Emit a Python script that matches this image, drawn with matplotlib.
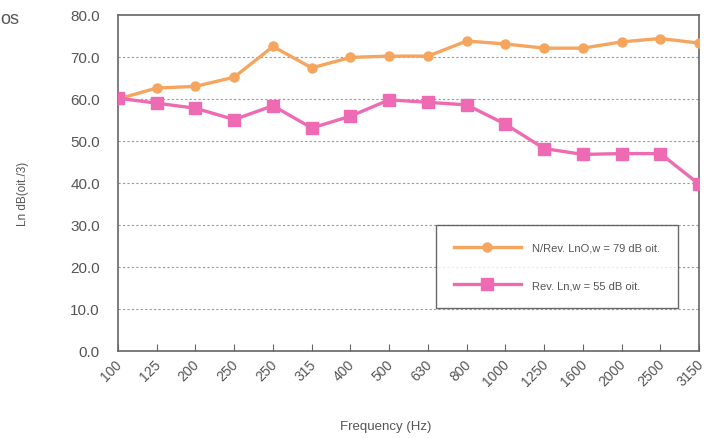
import matplotlib.pyplot as plt
import matplotlib.transforms as mtransforms
import numpy as np

plt.rcParams['font.family'] = ['Liberation Sans', 'DejaVu Sans']

# frequency bands (as printed on the axis)
freqs = ["100", "125", "200", "250", "250", "315", "400", "500", "630", "800",
         "1000", "1250", "1600", "2000", "2500", "3150"]

# without covering
ln0 = [60.0, 62.6, 63.0, 65.2, 72.5, 67.4, 69.9, 70.2, 70.2, 73.8,
       73.1, 72.1, 72.1, 73.6, 74.4, 73.3]
# with covering
ln = [60.2, 59.0, 57.8, 55.1, 58.4, 53.1, 55.9, 59.8, 59.2, 58.6,
      54.0, 48.2, 46.8, 47.0, 47.0, 39.7]

labels = ["N/Rev. LnO,w = 79 dB oit.", "Rev. Ln,w = 55 dB oit."]
yticks = [0, 10, 20, 30, 40, 50, 60, 70, 80]

txt = "#555555"
x = np.arange(len(freqs))

fig = plt.figure(figsize=(7.07, 4.39), dpi=100)
ax = fig.add_axes([0.1669, 0.1982, 0.822, 0.7654])

ax.plot(x, ln0, color="#F5A55E", lw=2.4, marker="o", ms=6.5, label=labels[0], zorder=3)
ax.plot(x, ln, color="#EE6BB3", lw=2.4, marker="s", ms=8, label=labels[1], zorder=3)

ax.set_xlim(0, len(freqs) - 1)
ax.set_ylim(0, 80)
ax.set_yticks(yticks)
ax.set_yticklabels([f"{v:.1f}" for v in yticks], color=txt, fontsize=11)
ax.tick_params(axis="y", length=0, pad=13)
ax.set_xticks(x)
ax.set_xticklabels(freqs, rotation=45, ha="right", rotation_mode="anchor",
                   color=txt, fontsize=10)
ax.tick_params(axis="x", direction="in", length=5, color="#666666", pad=4)

# nudge the rotated labels a little to the left so the last one stays inside
shift = mtransforms.ScaledTranslation(-3 / 100, 0, fig.dpi_scale_trans)
for lab in ax.get_xticklabels():
    lab.set_transform(lab.get_transform() + shift)

for v in yticks[1:-1]:
    ax.axhline(v, color="#999999", lw=0.8, ls=(0, (2, 2)), zorder=1)

for s in ax.spines.values():
    s.set_color("#666666")
    s.set_linewidth(1.2)

ax.set_xlabel("Frequency (Hz)", color=txt, fontsize=9.5, va="center")
ax.xaxis.set_label_coords(0.46, -0.223)
ax.set_ylabel("Ln dB(oit./3)", color=txt, fontsize=8.5, va="center")
ax.yaxis.set_label_coords(-0.163, 0.47)

leg = ax.legend(loc="lower right", bbox_to_anchor=(0.964, 0.128), borderaxespad=0,
                fontsize=8, frameon=True, fancybox=False, borderpad=1.6,
                labelspacing=2.5, handlelength=6.1, handletextpad=1.0,
                labelcolor=txt)
leg.get_frame().set_edgecolor("#444444")
leg.get_frame().set_linewidth(1.0)

fig.text(0.0, 0.955, "os", color=txt, fontsize=13, va="center")

fig.savefig("out.png", dpi=100)
